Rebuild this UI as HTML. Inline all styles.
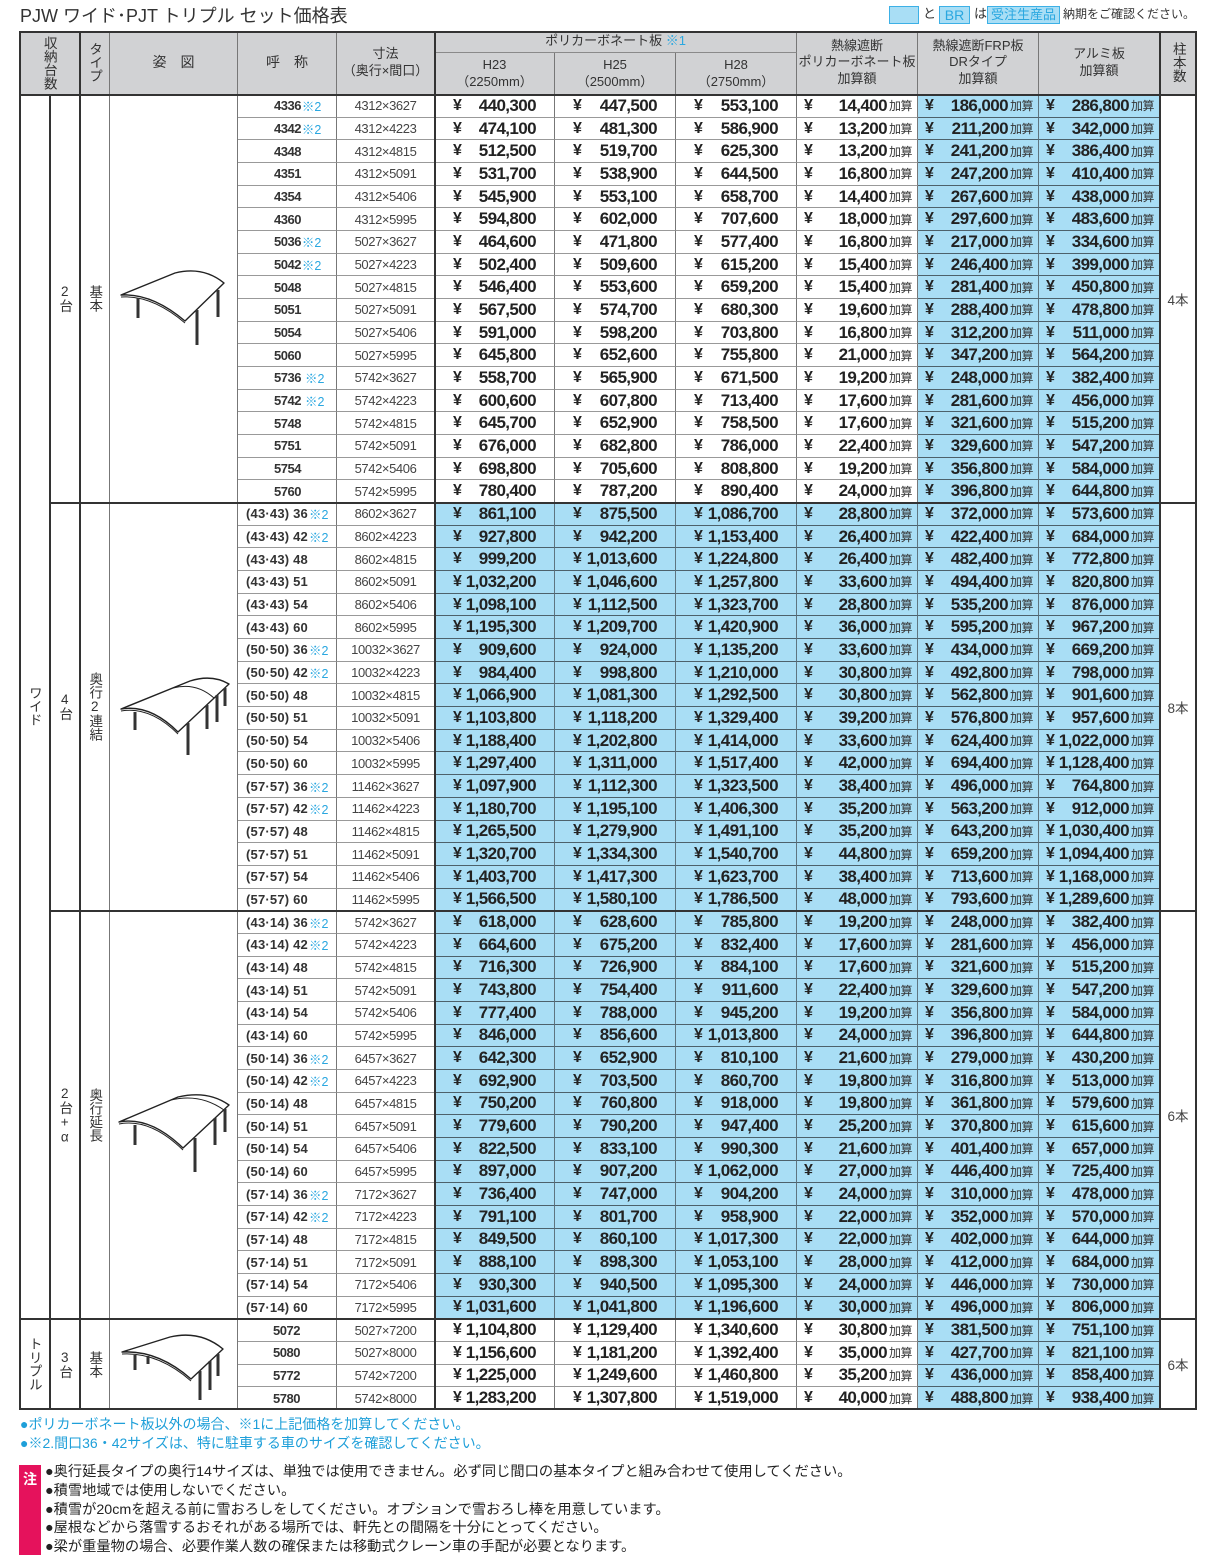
<!DOCTYPE html>
<html><head><meta charset="utf-8">
<style>
*{margin:0;padding:0;box-sizing:border-box}
body{width:1218px;height:1566px;background:#fff;position:relative;overflow:hidden;font-family:"Liberation Sans","Noto Sans CJK JP",sans-serif;color:#222}
.title{position:absolute;left:20px;top:4px;font-size:18px;line-height:24px;color:#333;white-space:nowrap}
.lg{position:absolute;top:6px;height:18px;line-height:16px;font-size:13px;color:#333;white-space:nowrap}
.bx{background:#a9def5;border:1px solid #3cb0e6;color:#2aa7e0;text-align:center}
.hd{position:absolute;left:19px;top:31px;width:1178px;height:64px;display:grid;grid-template-columns:31px 30px 30px 128px 99px 98px 120px 121px 121px 121px 121px 121px 37px;grid-template-rows:22px 42px;background:#d1d2d4}
.hd>div{border-right:1px solid #777;border-bottom:1px solid #8a8a8a;display:flex;align-items:center;justify-content:center;text-align:center;font-size:13px;line-height:16.5px;color:#333;white-space:nowrap}
.bd{position:absolute;left:19px;top:95px;width:1178px;height:1315px;display:grid;grid-template-columns:31px 30px 30px 128px 99px 98px 120px 121px 121px 121px 121px 121px 37px;grid-template-rows:repeat(58,minmax(0,1fr))}
.bd>div{border-right:1px solid #777;border-bottom:1px solid #999;display:flex;align-items:center;overflow:hidden;white-space:nowrap}
.c{justify-content:center}
.v{writing-mode:vertical-rl;text-orientation:upright;font-size:13.5px;line-height:1;color:#333}
.n{font-size:13px;font-weight:bold;letter-spacing:-0.5px;color:#333;padding-left:36px}
.n2{padding-left:8px;letter-spacing:0.2px}
em{font-style:normal;color:#2aa7e0;font-weight:normal;margin-left:1px;letter-spacing:0;font-size:12.5px}
.s{justify-content:center;font-size:13px;color:#444;letter-spacing:-0.4px}
.p,.a{font-weight:bold;font-size:17px;letter-spacing:-0.6px;color:#222}
.p{padding:0 18px 0 18px}
.a{padding:0 5px 0 7px}
i{font-style:normal;font-size:16px;letter-spacing:0;margin-right:auto}
u{text-decoration:none;font-weight:normal;font-size:12px;letter-spacing:-0.5px;margin-left:2px;color:#333}
.bd>div.b{background:#a9def5;border-bottom-color:#4d616b;border-right-color:#5e7580}
.ln{position:absolute;background:#333}
.z{font-size:13.5px;color:#444}
.nb{position:absolute;left:20px;font-size:14px;line-height:19px;color:#1e9fd9;white-space:nowrap}
.nt{position:absolute;left:45px;top:1463px;font-size:14.25px;line-height:18.75px;color:#222;white-space:nowrap}
.chu{position:absolute;left:19px;top:1465px;width:22px;height:90px;background:#e5125c;color:#fff;font-weight:bold;font-size:14px;text-align:center;padding-top:4px}
</style></head><body>
<div class="title">PJW ワイド･PJT トリプル セット価格表</div>
<div class="lg bx" style="left:889px;width:30px"></div>
<div class="lg" style="left:923px">と</div>
<div class="lg bx" style="left:939px;width:31px;font-size:14px">BR</div>
<div class="lg" style="left:974px">は</div>
<div class="lg bx" style="left:987px;width:73px">受注生産品</div>
<div class="lg" style="left:1063px;font-size:12px">納期をご確認ください。</div>

<div class="hd">
<div style="grid-column:1/3;grid-row:1/3"><span class="v" style="font-size:13.5px">収納台数</span></div>
<div style="grid-column:3;grid-row:1/3"><span class="v">タイプ</span></div>
<div style="grid-column:4;grid-row:1/3;font-size:14px">姿&ensp;&ensp;図</div>
<div style="grid-column:5;grid-row:1/3;font-size:14px">呼&ensp;&ensp;称</div>
<div style="grid-column:6;grid-row:1/3">寸法<br>（奥行×間口）</div>
<div style="grid-column:7/10;grid-row:1">ポリカーボネート板&nbsp;<span style="color:#2aa7e0">※1</span></div>
<div style="grid-column:10;grid-row:1/3">熱線遮断<br>ポリカーボネート板<br>加算額</div>
<div style="grid-column:11;grid-row:1/3">熱線遮断FRP板<br>DRタイプ<br>加算額</div>
<div style="grid-column:12;grid-row:1/3">アルミ板<br>加算額</div>
<div style="grid-column:13;grid-row:1/3"><span class="v">柱本数</span></div>
<div style="grid-column:7;grid-row:2">H23<br>（2250mm）</div>
<div style="grid-column:8;grid-row:2">H25<br>（2500mm）</div>
<div style="grid-column:9;grid-row:2">H28<br>（2750mm）</div>
</div>

<div class="bd">
<div class="c" style="grid-column:1;grid-row:1/55"><span class="v">ワイド</span></div>
<div class="c" style="grid-column:1;grid-row:55/59"><span class="v">トリプル</span></div>
<div class="c" style="grid-column:2;grid-row:1/19"><span class="v">2台</span></div>
<div class="c" style="grid-column:2;grid-row:19/37"><span class="v">4台</span></div>
<div class="c" style="grid-column:2;grid-row:37/55"><span class="v">2台+α</span></div>
<div class="c" style="grid-column:2;grid-row:55/59"><span class="v">3台</span></div>
<div class="c" style="grid-column:3;grid-row:1/19"><span class="v">基本</span></div>
<div class="c" style="grid-column:3;grid-row:19/37"><span class="v">奥行2連結</span></div>
<div class="c" style="grid-column:3;grid-row:37/55"><span class="v">奥行延長</span></div>
<div class="c" style="grid-column:3;grid-row:55/59"><span class="v">基本</span></div>
<div style="grid-column:4;grid-row:1/19"></div>
<div style="grid-column:4;grid-row:19/37"></div>
<div style="grid-column:4;grid-row:37/55"></div>
<div style="grid-column:4;grid-row:55/59"></div>
<div class="c z" style="grid-column:13;grid-row:1/19">4本</div>
<div class="c z" style="grid-column:13;grid-row:19/37">8本</div>
<div class="c z" style="grid-column:13;grid-row:37/55">6本</div>
<div class="c z" style="grid-column:13;grid-row:55/59">6本</div>

<div class="n">4336<em>※2</em></div><div class="s">4312×3627</div><div class="p"><i>¥</i>440,300</div><div class="p"><i>¥</i>447,500</div><div class="p"><i>¥</i>553,100</div><div class="a"><i>¥</i>14,400<u>加算</u></div><div class="a b"><i>¥</i>186,000<u>加算</u></div><div class="a b"><i>¥</i>286,800<u>加算</u></div>
<div class="n">4342<em>※2</em></div><div class="s">4312×4223</div><div class="p"><i>¥</i>474,100</div><div class="p"><i>¥</i>481,300</div><div class="p"><i>¥</i>586,900</div><div class="a"><i>¥</i>13,200<u>加算</u></div><div class="a b"><i>¥</i>211,200<u>加算</u></div><div class="a b"><i>¥</i>342,000<u>加算</u></div>
<div class="n">4348</div><div class="s">4312×4815</div><div class="p"><i>¥</i>512,500</div><div class="p"><i>¥</i>519,700</div><div class="p"><i>¥</i>625,300</div><div class="a"><i>¥</i>13,200<u>加算</u></div><div class="a b"><i>¥</i>241,200<u>加算</u></div><div class="a b"><i>¥</i>386,400<u>加算</u></div>
<div class="n">4351</div><div class="s">4312×5091</div><div class="p"><i>¥</i>531,700</div><div class="p"><i>¥</i>538,900</div><div class="p"><i>¥</i>644,500</div><div class="a"><i>¥</i>16,800<u>加算</u></div><div class="a b"><i>¥</i>247,200<u>加算</u></div><div class="a b"><i>¥</i>410,400<u>加算</u></div>
<div class="n">4354</div><div class="s">4312×5406</div><div class="p"><i>¥</i>545,900</div><div class="p"><i>¥</i>553,100</div><div class="p"><i>¥</i>658,700</div><div class="a"><i>¥</i>14,400<u>加算</u></div><div class="a b"><i>¥</i>267,600<u>加算</u></div><div class="a b"><i>¥</i>438,000<u>加算</u></div>
<div class="n">4360</div><div class="s">4312×5995</div><div class="p"><i>¥</i>594,800</div><div class="p"><i>¥</i>602,000</div><div class="p"><i>¥</i>707,600</div><div class="a"><i>¥</i>18,000<u>加算</u></div><div class="a b"><i>¥</i>297,600<u>加算</u></div><div class="a b"><i>¥</i>483,600<u>加算</u></div>
<div class="n">5036<em>※2</em></div><div class="s">5027×3627</div><div class="p"><i>¥</i>464,600</div><div class="p"><i>¥</i>471,800</div><div class="p"><i>¥</i>577,400</div><div class="a"><i>¥</i>16,800<u>加算</u></div><div class="a b"><i>¥</i>217,000<u>加算</u></div><div class="a b"><i>¥</i>334,600<u>加算</u></div>
<div class="n">5042<em>※2</em></div><div class="s">5027×4223</div><div class="p"><i>¥</i>502,400</div><div class="p"><i>¥</i>509,600</div><div class="p"><i>¥</i>615,200</div><div class="a"><i>¥</i>15,400<u>加算</u></div><div class="a b"><i>¥</i>246,400<u>加算</u></div><div class="a b"><i>¥</i>399,000<u>加算</u></div>
<div class="n">5048</div><div class="s">5027×4815</div><div class="p"><i>¥</i>546,400</div><div class="p"><i>¥</i>553,600</div><div class="p"><i>¥</i>659,200</div><div class="a"><i>¥</i>15,400<u>加算</u></div><div class="a b"><i>¥</i>281,400<u>加算</u></div><div class="a b"><i>¥</i>450,800<u>加算</u></div>
<div class="n">5051</div><div class="s">5027×5091</div><div class="p"><i>¥</i>567,500</div><div class="p"><i>¥</i>574,700</div><div class="p"><i>¥</i>680,300</div><div class="a"><i>¥</i>19,600<u>加算</u></div><div class="a b"><i>¥</i>288,400<u>加算</u></div><div class="a b"><i>¥</i>478,800<u>加算</u></div>
<div class="n">5054</div><div class="s">5027×5406</div><div class="p"><i>¥</i>591,000</div><div class="p"><i>¥</i>598,200</div><div class="p"><i>¥</i>703,800</div><div class="a"><i>¥</i>16,800<u>加算</u></div><div class="a b"><i>¥</i>312,200<u>加算</u></div><div class="a b"><i>¥</i>511,000<u>加算</u></div>
<div class="n">5060</div><div class="s">5027×5995</div><div class="p"><i>¥</i>645,800</div><div class="p"><i>¥</i>652,600</div><div class="p"><i>¥</i>755,800</div><div class="a"><i>¥</i>21,000<u>加算</u></div><div class="a b"><i>¥</i>347,200<u>加算</u></div><div class="a b"><i>¥</i>564,200<u>加算</u></div>
<div class="n">5736&nbsp;<em>※2</em></div><div class="s">5742×3627</div><div class="p"><i>¥</i>558,700</div><div class="p"><i>¥</i>565,900</div><div class="p"><i>¥</i>671,500</div><div class="a"><i>¥</i>19,200<u>加算</u></div><div class="a b"><i>¥</i>248,000<u>加算</u></div><div class="a b"><i>¥</i>382,400<u>加算</u></div>
<div class="n">5742&nbsp;<em>※2</em></div><div class="s">5742×4223</div><div class="p"><i>¥</i>600,600</div><div class="p"><i>¥</i>607,800</div><div class="p"><i>¥</i>713,400</div><div class="a"><i>¥</i>17,600<u>加算</u></div><div class="a b"><i>¥</i>281,600<u>加算</u></div><div class="a b"><i>¥</i>456,000<u>加算</u></div>
<div class="n">5748</div><div class="s">5742×4815</div><div class="p"><i>¥</i>645,700</div><div class="p"><i>¥</i>652,900</div><div class="p"><i>¥</i>758,500</div><div class="a"><i>¥</i>17,600<u>加算</u></div><div class="a b"><i>¥</i>321,600<u>加算</u></div><div class="a b"><i>¥</i>515,200<u>加算</u></div>
<div class="n">5751</div><div class="s">5742×5091</div><div class="p"><i>¥</i>676,000</div><div class="p"><i>¥</i>682,800</div><div class="p"><i>¥</i>786,000</div><div class="a"><i>¥</i>22,400<u>加算</u></div><div class="a b"><i>¥</i>329,600<u>加算</u></div><div class="a b"><i>¥</i>547,200<u>加算</u></div>
<div class="n">5754</div><div class="s">5742×5406</div><div class="p"><i>¥</i>698,800</div><div class="p"><i>¥</i>705,600</div><div class="p"><i>¥</i>808,800</div><div class="a"><i>¥</i>19,200<u>加算</u></div><div class="a b"><i>¥</i>356,800<u>加算</u></div><div class="a b"><i>¥</i>584,000<u>加算</u></div>
<div class="n">5760</div><div class="s">5742×5995</div><div class="p"><i>¥</i>780,400</div><div class="p"><i>¥</i>787,200</div><div class="p"><i>¥</i>890,400</div><div class="a"><i>¥</i>24,000<u>加算</u></div><div class="a b"><i>¥</i>396,800<u>加算</u></div><div class="a b"><i>¥</i>644,800<u>加算</u></div>

<div class="n n2">(43·43) 36<em>※2</em></div><div class="s">8602×3627</div><div class="p b"><i>¥</i>861,100</div><div class="p b"><i>¥</i>875,500</div><div class="p b"><i>¥</i>1,086,700</div><div class="a b"><i>¥</i>28,800<u>加算</u></div><div class="a b"><i>¥</i>372,000<u>加算</u></div><div class="a b"><i>¥</i>573,600<u>加算</u></div>
<div class="n n2">(43·43) 42<em>※2</em></div><div class="s">8602×4223</div><div class="p b"><i>¥</i>927,800</div><div class="p b"><i>¥</i>942,200</div><div class="p b"><i>¥</i>1,153,400</div><div class="a b"><i>¥</i>26,400<u>加算</u></div><div class="a b"><i>¥</i>422,400<u>加算</u></div><div class="a b"><i>¥</i>684,000<u>加算</u></div>
<div class="n n2">(43·43) 48</div><div class="s">8602×4815</div><div class="p b"><i>¥</i>999,200</div><div class="p b"><i>¥</i>1,013,600</div><div class="p b"><i>¥</i>1,224,800</div><div class="a b"><i>¥</i>26,400<u>加算</u></div><div class="a b"><i>¥</i>482,400<u>加算</u></div><div class="a b"><i>¥</i>772,800<u>加算</u></div>
<div class="n n2">(43·43) 51</div><div class="s">8602×5091</div><div class="p b"><i>¥</i>1,032,200</div><div class="p b"><i>¥</i>1,046,600</div><div class="p b"><i>¥</i>1,257,800</div><div class="a b"><i>¥</i>33,600<u>加算</u></div><div class="a b"><i>¥</i>494,400<u>加算</u></div><div class="a b"><i>¥</i>820,800<u>加算</u></div>
<div class="n n2">(43·43) 54</div><div class="s">8602×5406</div><div class="p b"><i>¥</i>1,098,100</div><div class="p b"><i>¥</i>1,112,500</div><div class="p b"><i>¥</i>1,323,700</div><div class="a b"><i>¥</i>28,800<u>加算</u></div><div class="a b"><i>¥</i>535,200<u>加算</u></div><div class="a b"><i>¥</i>876,000<u>加算</u></div>
<div class="n n2">(43·43) 60</div><div class="s">8602×5995</div><div class="p b"><i>¥</i>1,195,300</div><div class="p b"><i>¥</i>1,209,700</div><div class="p b"><i>¥</i>1,420,900</div><div class="a b"><i>¥</i>36,000<u>加算</u></div><div class="a b"><i>¥</i>595,200<u>加算</u></div><div class="a b"><i>¥</i>967,200<u>加算</u></div>
<div class="n n2">(50·50) 36<em>※2</em></div><div class="s">10032×3627</div><div class="p b"><i>¥</i>909,600</div><div class="p b"><i>¥</i>924,000</div><div class="p b"><i>¥</i>1,135,200</div><div class="a b"><i>¥</i>33,600<u>加算</u></div><div class="a b"><i>¥</i>434,000<u>加算</u></div><div class="a b"><i>¥</i>669,200<u>加算</u></div>
<div class="n n2">(50·50) 42<em>※2</em></div><div class="s">10032×4223</div><div class="p b"><i>¥</i>984,400</div><div class="p b"><i>¥</i>998,800</div><div class="p b"><i>¥</i>1,210,000</div><div class="a b"><i>¥</i>30,800<u>加算</u></div><div class="a b"><i>¥</i>492,800<u>加算</u></div><div class="a b"><i>¥</i>798,000<u>加算</u></div>
<div class="n n2">(50·50) 48</div><div class="s">10032×4815</div><div class="p b"><i>¥</i>1,066,900</div><div class="p b"><i>¥</i>1,081,300</div><div class="p b"><i>¥</i>1,292,500</div><div class="a b"><i>¥</i>30,800<u>加算</u></div><div class="a b"><i>¥</i>562,800<u>加算</u></div><div class="a b"><i>¥</i>901,600<u>加算</u></div>
<div class="n n2">(50·50) 51</div><div class="s">10032×5091</div><div class="p b"><i>¥</i>1,103,800</div><div class="p b"><i>¥</i>1,118,200</div><div class="p b"><i>¥</i>1,329,400</div><div class="a b"><i>¥</i>39,200<u>加算</u></div><div class="a b"><i>¥</i>576,800<u>加算</u></div><div class="a b"><i>¥</i>957,600<u>加算</u></div>
<div class="n n2">(50·50) 54</div><div class="s">10032×5406</div><div class="p b"><i>¥</i>1,188,400</div><div class="p b"><i>¥</i>1,202,800</div><div class="p b"><i>¥</i>1,414,000</div><div class="a b"><i>¥</i>33,600<u>加算</u></div><div class="a b"><i>¥</i>624,400<u>加算</u></div><div class="a b"><i>¥</i>1,022,000<u>加算</u></div>
<div class="n n2">(50·50) 60</div><div class="s">10032×5995</div><div class="p b"><i>¥</i>1,297,400</div><div class="p b"><i>¥</i>1,311,000</div><div class="p b"><i>¥</i>1,517,400</div><div class="a b"><i>¥</i>42,000<u>加算</u></div><div class="a b"><i>¥</i>694,400<u>加算</u></div><div class="a b"><i>¥</i>1,128,400<u>加算</u></div>
<div class="n n2">(57·57) 36<em>※2</em></div><div class="s">11462×3627</div><div class="p b"><i>¥</i>1,097,900</div><div class="p b"><i>¥</i>1,112,300</div><div class="p b"><i>¥</i>1,323,500</div><div class="a b"><i>¥</i>38,400<u>加算</u></div><div class="a b"><i>¥</i>496,000<u>加算</u></div><div class="a b"><i>¥</i>764,800<u>加算</u></div>
<div class="n n2">(57·57) 42<em>※2</em></div><div class="s">11462×4223</div><div class="p b"><i>¥</i>1,180,700</div><div class="p b"><i>¥</i>1,195,100</div><div class="p b"><i>¥</i>1,406,300</div><div class="a b"><i>¥</i>35,200<u>加算</u></div><div class="a b"><i>¥</i>563,200<u>加算</u></div><div class="a b"><i>¥</i>912,000<u>加算</u></div>
<div class="n n2">(57·57) 48</div><div class="s">11462×4815</div><div class="p b"><i>¥</i>1,265,500</div><div class="p b"><i>¥</i>1,279,900</div><div class="p b"><i>¥</i>1,491,100</div><div class="a b"><i>¥</i>35,200<u>加算</u></div><div class="a b"><i>¥</i>643,200<u>加算</u></div><div class="a b"><i>¥</i>1,030,400<u>加算</u></div>
<div class="n n2">(57·57) 51</div><div class="s">11462×5091</div><div class="p b"><i>¥</i>1,320,700</div><div class="p b"><i>¥</i>1,334,300</div><div class="p b"><i>¥</i>1,540,700</div><div class="a b"><i>¥</i>44,800<u>加算</u></div><div class="a b"><i>¥</i>659,200<u>加算</u></div><div class="a b"><i>¥</i>1,094,400<u>加算</u></div>
<div class="n n2">(57·57) 54</div><div class="s">11462×5406</div><div class="p b"><i>¥</i>1,403,700</div><div class="p b"><i>¥</i>1,417,300</div><div class="p b"><i>¥</i>1,623,700</div><div class="a b"><i>¥</i>38,400<u>加算</u></div><div class="a b"><i>¥</i>713,600<u>加算</u></div><div class="a b"><i>¥</i>1,168,000<u>加算</u></div>
<div class="n n2">(57·57) 60</div><div class="s">11462×5995</div><div class="p b"><i>¥</i>1,566,500</div><div class="p b"><i>¥</i>1,580,100</div><div class="p b"><i>¥</i>1,786,500</div><div class="a b"><i>¥</i>48,000<u>加算</u></div><div class="a b"><i>¥</i>793,600<u>加算</u></div><div class="a b"><i>¥</i>1,289,600<u>加算</u></div>

<div class="n n2">(43·14) 36<em>※2</em></div><div class="s">5742×3627</div><div class="p b"><i>¥</i>618,000</div><div class="p b"><i>¥</i>628,600</div><div class="p b"><i>¥</i>785,800</div><div class="a b"><i>¥</i>19,200<u>加算</u></div><div class="a b"><i>¥</i>248,000<u>加算</u></div><div class="a b"><i>¥</i>382,400<u>加算</u></div>
<div class="n n2">(43·14) 42<em>※2</em></div><div class="s">5742×4223</div><div class="p b"><i>¥</i>664,600</div><div class="p b"><i>¥</i>675,200</div><div class="p b"><i>¥</i>832,400</div><div class="a b"><i>¥</i>17,600<u>加算</u></div><div class="a b"><i>¥</i>281,600<u>加算</u></div><div class="a b"><i>¥</i>456,000<u>加算</u></div>
<div class="n n2">(43·14) 48</div><div class="s">5742×4815</div><div class="p b"><i>¥</i>716,300</div><div class="p b"><i>¥</i>726,900</div><div class="p b"><i>¥</i>884,100</div><div class="a b"><i>¥</i>17,600<u>加算</u></div><div class="a b"><i>¥</i>321,600<u>加算</u></div><div class="a b"><i>¥</i>515,200<u>加算</u></div>
<div class="n n2">(43·14) 51</div><div class="s">5742×5091</div><div class="p b"><i>¥</i>743,800</div><div class="p b"><i>¥</i>754,400</div><div class="p b"><i>¥</i>911,600</div><div class="a b"><i>¥</i>22,400<u>加算</u></div><div class="a b"><i>¥</i>329,600<u>加算</u></div><div class="a b"><i>¥</i>547,200<u>加算</u></div>
<div class="n n2">(43·14) 54</div><div class="s">5742×5406</div><div class="p b"><i>¥</i>777,400</div><div class="p b"><i>¥</i>788,000</div><div class="p b"><i>¥</i>945,200</div><div class="a b"><i>¥</i>19,200<u>加算</u></div><div class="a b"><i>¥</i>356,800<u>加算</u></div><div class="a b"><i>¥</i>584,000<u>加算</u></div>
<div class="n n2">(43·14) 60</div><div class="s">5742×5995</div><div class="p b"><i>¥</i>846,000</div><div class="p b"><i>¥</i>856,600</div><div class="p b"><i>¥</i>1,013,800</div><div class="a b"><i>¥</i>24,000<u>加算</u></div><div class="a b"><i>¥</i>396,800<u>加算</u></div><div class="a b"><i>¥</i>644,800<u>加算</u></div>
<div class="n n2">(50·14) 36<em>※2</em></div><div class="s">6457×3627</div><div class="p b"><i>¥</i>642,300</div><div class="p b"><i>¥</i>652,900</div><div class="p b"><i>¥</i>810,100</div><div class="a b"><i>¥</i>21,600<u>加算</u></div><div class="a b"><i>¥</i>279,000<u>加算</u></div><div class="a b"><i>¥</i>430,200<u>加算</u></div>
<div class="n n2">(50·14) 42<em>※2</em></div><div class="s">6457×4223</div><div class="p b"><i>¥</i>692,900</div><div class="p b"><i>¥</i>703,500</div><div class="p b"><i>¥</i>860,700</div><div class="a b"><i>¥</i>19,800<u>加算</u></div><div class="a b"><i>¥</i>316,800<u>加算</u></div><div class="a b"><i>¥</i>513,000<u>加算</u></div>
<div class="n n2">(50·14) 48</div><div class="s">6457×4815</div><div class="p b"><i>¥</i>750,200</div><div class="p b"><i>¥</i>760,800</div><div class="p b"><i>¥</i>918,000</div><div class="a b"><i>¥</i>19,800<u>加算</u></div><div class="a b"><i>¥</i>361,800<u>加算</u></div><div class="a b"><i>¥</i>579,600<u>加算</u></div>
<div class="n n2">(50·14) 51</div><div class="s">6457×5091</div><div class="p b"><i>¥</i>779,600</div><div class="p b"><i>¥</i>790,200</div><div class="p b"><i>¥</i>947,400</div><div class="a b"><i>¥</i>25,200<u>加算</u></div><div class="a b"><i>¥</i>370,800<u>加算</u></div><div class="a b"><i>¥</i>615,600<u>加算</u></div>
<div class="n n2">(50·14) 54</div><div class="s">6457×5406</div><div class="p b"><i>¥</i>822,500</div><div class="p b"><i>¥</i>833,100</div><div class="p b"><i>¥</i>990,300</div><div class="a b"><i>¥</i>21,600<u>加算</u></div><div class="a b"><i>¥</i>401,400<u>加算</u></div><div class="a b"><i>¥</i>657,000<u>加算</u></div>
<div class="n n2">(50·14) 60</div><div class="s">6457×5995</div><div class="p b"><i>¥</i>897,000</div><div class="p b"><i>¥</i>907,200</div><div class="p b"><i>¥</i>1,062,000</div><div class="a b"><i>¥</i>27,000<u>加算</u></div><div class="a b"><i>¥</i>446,400<u>加算</u></div><div class="a b"><i>¥</i>725,400<u>加算</u></div>
<div class="n n2">(57·14) 36<em>※2</em></div><div class="s">7172×3627</div><div class="p b"><i>¥</i>736,400</div><div class="p b"><i>¥</i>747,000</div><div class="p b"><i>¥</i>904,200</div><div class="a b"><i>¥</i>24,000<u>加算</u></div><div class="a b"><i>¥</i>310,000<u>加算</u></div><div class="a b"><i>¥</i>478,000<u>加算</u></div>
<div class="n n2">(57·14) 42<em>※2</em></div><div class="s">7172×4223</div><div class="p b"><i>¥</i>791,100</div><div class="p b"><i>¥</i>801,700</div><div class="p b"><i>¥</i>958,900</div><div class="a b"><i>¥</i>22,000<u>加算</u></div><div class="a b"><i>¥</i>352,000<u>加算</u></div><div class="a b"><i>¥</i>570,000<u>加算</u></div>
<div class="n n2">(57·14) 48</div><div class="s">7172×4815</div><div class="p b"><i>¥</i>849,500</div><div class="p b"><i>¥</i>860,100</div><div class="p b"><i>¥</i>1,017,300</div><div class="a b"><i>¥</i>22,000<u>加算</u></div><div class="a b"><i>¥</i>402,000<u>加算</u></div><div class="a b"><i>¥</i>644,000<u>加算</u></div>
<div class="n n2">(57·14) 51</div><div class="s">7172×5091</div><div class="p b"><i>¥</i>888,100</div><div class="p b"><i>¥</i>898,300</div><div class="p b"><i>¥</i>1,053,100</div><div class="a b"><i>¥</i>28,000<u>加算</u></div><div class="a b"><i>¥</i>412,000<u>加算</u></div><div class="a b"><i>¥</i>684,000<u>加算</u></div>
<div class="n n2">(57·14) 54</div><div class="s">7172×5406</div><div class="p b"><i>¥</i>930,300</div><div class="p b"><i>¥</i>940,500</div><div class="p b"><i>¥</i>1,095,300</div><div class="a b"><i>¥</i>24,000<u>加算</u></div><div class="a b"><i>¥</i>446,000<u>加算</u></div><div class="a b"><i>¥</i>730,000<u>加算</u></div>
<div class="n n2">(57·14) 60</div><div class="s">7172×5995</div><div class="p b"><i>¥</i>1,031,600</div><div class="p b"><i>¥</i>1,041,800</div><div class="p b"><i>¥</i>1,196,600</div><div class="a b"><i>¥</i>30,000<u>加算</u></div><div class="a b"><i>¥</i>496,000<u>加算</u></div><div class="a b"><i>¥</i>806,000<u>加算</u></div>

<div class="n" style="padding-left:35px">5072</div><div class="s">5027×7200</div><div class="p"><i>¥</i>1,104,800</div><div class="p"><i>¥</i>1,129,400</div><div class="p"><i>¥</i>1,340,600</div><div class="a"><i>¥</i>30,800<u>加算</u></div><div class="a b"><i>¥</i>381,500<u>加算</u></div><div class="a b"><i>¥</i>751,100<u>加算</u></div>
<div class="n" style="padding-left:35px">5080</div><div class="s">5027×8000</div><div class="p"><i>¥</i>1,156,600</div><div class="p"><i>¥</i>1,181,200</div><div class="p"><i>¥</i>1,392,400</div><div class="a"><i>¥</i>35,000<u>加算</u></div><div class="a b"><i>¥</i>427,700<u>加算</u></div><div class="a b"><i>¥</i>821,100<u>加算</u></div>
<div class="n" style="padding-left:35px">5772</div><div class="s">5742×7200</div><div class="p"><i>¥</i>1,225,000</div><div class="p"><i>¥</i>1,249,600</div><div class="p"><i>¥</i>1,460,800</div><div class="a"><i>¥</i>35,200<u>加算</u></div><div class="a b"><i>¥</i>436,000<u>加算</u></div><div class="a b"><i>¥</i>858,400<u>加算</u></div>
<div class="n" style="padding-left:35px">5780</div><div class="s">5742×8000</div><div class="p"><i>¥</i>1,283,200</div><div class="p"><i>¥</i>1,307,800</div><div class="p"><i>¥</i>1,519,000</div><div class="a"><i>¥</i>40,000<u>加算</u></div><div class="a b"><i>¥</i>488,800<u>加算</u></div><div class="a b"><i>¥</i>938,400<u>加算</u></div>
</div>

<div class="ln" style="left:19px;top:31px;width:1178px;height:2px"></div>
<div class="ln" style="left:19px;top:1408px;width:1178px;height:2px"></div>
<div class="ln" style="left:19px;top:31px;width:2px;height:1379px"></div>
<div class="ln" style="left:1195px;top:31px;width:2px;height:1379px"></div>
<div class="ln" style="left:19px;top:94px;width:1178px;height:2px"></div>
<div class="ln" style="left:49px;top:95px;width:2px;height:1315px"></div>
<div class="ln" style="left:79px;top:31px;width:2px;height:1379px"></div>
<div class="ln" style="left:434px;top:31px;width:2px;height:1379px"></div>
<div class="ln" style="left:1159px;top:31px;width:2px;height:1379px"></div>
<div class="ln" style="left:49px;top:502px;width:1148px;height:2px"></div>
<div class="ln" style="left:49px;top:910px;width:1148px;height:2px"></div>
<div class="ln" style="left:19px;top:1318px;width:1178px;height:2px"></div>

<svg width="1218" height="1566" style="position:absolute;left:0;top:0" xmlns="http://www.w3.org/2000/svg">
<g fill="#fff" stroke="#222" stroke-width="1.4" stroke-linejoin="round">
<path d="M121,295 L175,273 Q203,266 224,283 L185,321 Q152,293 121,295 Z"/>
<path d="M121,709 L190,681 Q212,674 229,684 L178,732 Q150,704 121,709 Z"/>
<path d="M119,1122 L178,1097 Q208,1090 229,1105 L183,1148 Q150,1116 119,1122 Z"/>
<path d="M122,1352 L170,1337 Q200,1330 223,1349 L191,1379 Q158,1350 122,1352 Z"/>
</g>
<g fill="none" stroke="#222" stroke-width="1">
<path d="M121,297 Q152,295 185,323"/>
<path d="M121,711 Q150,706 178,734"/>
<path d="M173,688 Q196,682 214,698"/>
<path d="M119,1124 Q150,1118 183,1150"/>
<path d="M171,1100 Q200,1093 224,1110"/>
<path d="M122,1354 Q158,1352 191,1381"/>
</g>
<g stroke="#333" stroke-width="3" stroke-linecap="butt">
<line x1="138" y1="298" x2="138" y2="318"/>
<line x1="197" y1="310" x2="197" y2="345"/>
<line x1="218" y1="290" x2="218" y2="317"/>
<line x1="135" y1="712" x2="135" y2="730"/>
<line x1="188" y1="723" x2="188" y2="755"/>
<line x1="207" y1="705" x2="207" y2="729"/>
<line x1="217" y1="695" x2="217" y2="722"/>
<line x1="225" y1="688" x2="225" y2="706"/>
<line x1="135" y1="1125" x2="135" y2="1145"/>
<line x1="195" y1="1138" x2="195" y2="1172"/>
<line x1="215" y1="1118" x2="215" y2="1145"/>
<line x1="225" y1="1109" x2="225" y2="1132"/>
<line x1="135" y1="1355" x2="135" y2="1370"/>
<line x1="148" y1="1356" x2="148" y2="1364"/>
<line x1="200" y1="1371" x2="200" y2="1400"/>
<line x1="210" y1="1361" x2="210" y2="1390"/>
<line x1="218" y1="1354" x2="218" y2="1376"/>
</g>
</svg>

<div class="nb" style="top:1415px">●ポリカーボネート板以外の場合、※1に上記価格を加算してください。</div>
<div class="nb" style="top:1434px">●※2.間口36・42サイズは、特に駐車する車のサイズを確認してください。</div>
<div class="chu">注</div>
<div class="nt">●奥行延長タイプの奥行14サイズは、単独では使用できません。必ず同じ間口の基本タイプと組み合わせて使用してください。<br>●積雪地域では使用しないでください。<br>●積雪が20cmを超える前に雪おろしをしてください。オプションで雪おろし棒を用意しています。<br>●屋根などから落雪するおそれがある場所では、軒先との間隔を十分にとってください。<br>●梁が重量物の場合、必要作業人数の確保または移動式クレーン車の手配が必要となります。</div>
</body></html>
